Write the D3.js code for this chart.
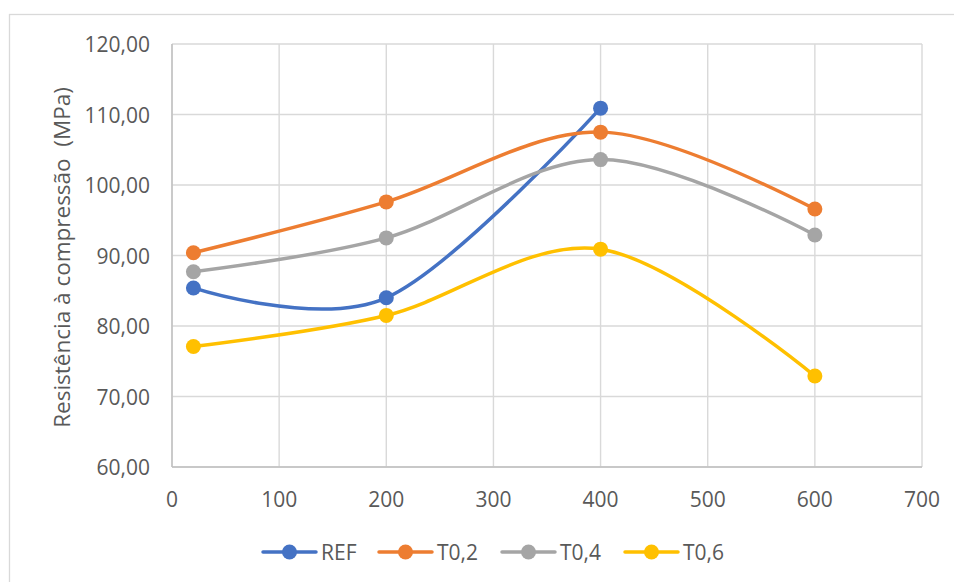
<!DOCTYPE html>
<html>
<head>
<meta charset="utf-8">
<script src="https://cdn.jsdelivr.net/npm/d3@7"></script>
<style>
  html, body { margin: 0; padding: 0; background: #fff; }
  svg { display: block; }
  text { font-family: "Open Sans", "Noto Sans", sans-serif; fill: #595959; }
</style>
</head>
<body>
<svg id="chart" width="954" height="582"></svg>
<script>
const xValues = [20, 200, 400, 600];
const seriesNames = ["REF", "T0,2", "T0,4", "T0,6"];
const seriesColors = ["#4472C4", "#ED7D31", "#A5A5A5", "#FFC000"];
const refValues = [85.4, 84.0, 110.9, null];
const t02Values = [90.4, 97.6, 107.5, 96.6];
const t04Values = [87.7, 92.5, 103.6, 92.9];
const t06Values = [77.1, 81.5, 90.9, 72.9];
const xTicks = [0, 100, 200, 300, 400, 500, 600, 700];
const yTicks = [60, 70, 80, 90, 100, 110, 120];
const yTitle = "Resistência à compressão  (MPa)";

const allValues = [refValues, t02Values, t04Values, t06Values];

const svg = d3.select("#chart");
const W = 954, H = 582;
const plot = { left: 172, top: 44, right: 922, bottom: 467 };

// chart border
svg.append("rect")
  .attr("x", 9.5).attr("y", 14.5)
  .attr("width", W).attr("height", H)
  .attr("fill", "none").attr("stroke", "#d9d9d9").attr("stroke-width", 1.3);

const x = d3.scaleLinear().domain([0, 700]).range([plot.left, plot.right]);
const y = d3.scaleLinear().domain([60, 120]).range([plot.bottom, plot.top]);

// gridlines
const grid = svg.append("g");
grid.selectAll("line.h").data(yTicks).join("line")
  .attr("x1", plot.left).attr("x2", plot.right)
  .attr("y1", d => y(d)).attr("y2", d => y(d))
  .attr("stroke", "#d9d9d9").attr("stroke-width", 1.4);
grid.selectAll("line.v").data(xTicks).join("line")
  .attr("y1", plot.top).attr("y2", plot.bottom)
  .attr("x1", d => x(d)).attr("x2", d => x(d))
  .attr("stroke", "#d9d9d9").attr("stroke-width", 1.4);

// axis lines
svg.append("line")
  .attr("x1", plot.left).attr("x2", plot.right)
  .attr("y1", plot.bottom).attr("y2", plot.bottom)
  .attr("stroke", "#bfbfbf").attr("stroke-width", 1.4);
svg.append("line")
  .attr("x1", plot.left).attr("x2", plot.left)
  .attr("y1", plot.top).attr("y2", plot.bottom)
  .attr("stroke", "#bfbfbf").attr("stroke-width", 1.4);

// y tick labels
const fmt = v => d3.format(".2f")(v).replace(".", ",");
svg.append("g").selectAll("text").data(yTicks).join("text")
  .attr("x", 150).attr("y", d => y(d))
  .attr("text-anchor", "end").attr("dominant-baseline", "central")
  .attr("font-size", 21)
  .text(d => fmt(d));

// x tick labels
svg.append("g").selectAll("text").data(xTicks).join("text")
  .attr("x", d => x(d)).attr("y", 499)
  .attr("text-anchor", "middle").attr("dominant-baseline", "central")
  .attr("font-size", 21)
  .text(d => d);

// y title
svg.append("text")
  .attr("transform", `translate(61, ${(plot.top + plot.bottom) / 2 + 2}) rotate(-90)`)
  .attr("text-anchor", "middle").attr("dominant-baseline", "central")
  .attr("font-size", 22.5)
  .style("white-space", "pre")
  .attr("xml:space", "preserve")
  .text(yTitle);

// series
const line = d3.line()
  .defined(d => d.v != null)
  .x(d => x(d.x)).y(d => y(d.v))
  .curve(d3.curveCatmullRom.alpha(0));

allValues.forEach((vals, i) => {
  const pts = xValues.map((xv, j) => ({ x: xv, v: vals[j] })).filter(d => d.v != null);
  svg.append("path").datum(pts)
    .attr("d", line)
    .attr("fill", "none")
    .attr("stroke", seriesColors[i])
    .attr("stroke-width", 3.5)
    .attr("stroke-linecap", "round");
  svg.append("g").selectAll("circle").data(pts).join("circle")
    .attr("cx", d => x(d.x)).attr("cy", d => y(d.v))
    .attr("r", 7.5).attr("fill", seriesColors[i]);
});

// legend
const legendX = [263, 379, 502, 625];
const legY = 552;
const leg = svg.append("g");
seriesNames.forEach((name, i) => {
  const g = leg.append("g");
  g.append("line")
    .attr("x1", legendX[i]).attr("x2", legendX[i] + 53)
    .attr("y1", legY).attr("y2", legY)
    .attr("stroke", seriesColors[i]).attr("stroke-width", 3.5)
    .attr("stroke-linecap", "round");
  g.append("circle")
    .attr("cx", legendX[i] + 26.5).attr("cy", legY)
    .attr("r", 7.5).attr("fill", seriesColors[i]);
  g.append("text")
    .attr("x", legendX[i] + 58).attr("y", legY)
    .attr("dominant-baseline", "central")
    .attr("font-size", 21)
    .text(name);
});
</script>
</body>
</html>
